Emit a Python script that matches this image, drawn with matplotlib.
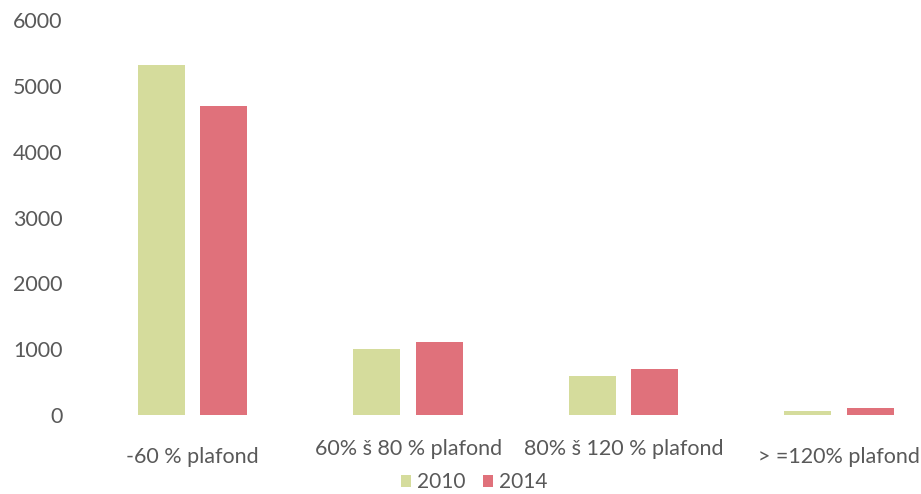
import numpy as np
import matplotlib
matplotlib.use('Agg')
import matplotlib.pyplot as plt
from matplotlib.transforms import ScaledTranslation

# données
categories = ['-60 % plafond', '60% š 80 % plafond', '80% š 120 % plafond', '> =120% plafond']
vals_2010 = [5320, 1000, 590, 60]
vals_2014 = [4700, 1110, 700, 100]
series_names = ['2010', '2014']
y_ticks = [0, 1000, 2000, 3000, 4000, 5000, 6000]

GREEN = '#d5dc9c'
RED = '#e0717b'
TXT = '#595959'

plt.rcParams['font.family'] = ['Lato', 'DejaVu Sans']

W, H = 921, 494
fig = plt.figure(figsize=(W / 100, H / 100), dpi=100)
ax = fig.add_axes([85 / W, 1 - 415 / H, 1 - 85 / W, (415 - 20) / H])

x = np.arange(len(categories))
bw = 0.218
off = 0.145
ax.bar(x - off, vals_2010, bw, color=GREEN, label=series_names[0])
ax.bar(x + off, vals_2014, bw, color=RED, label=series_names[1])

ax.set_ylim(0, 6000)
ax.set_xlim(-0.5, (W - 192.5) / 215.5)
ax.set_yticks(y_ticks)
ax.set_yticklabels([str(v) for v in y_ticks])
ax.set_xticks(x)
ax.set_xticklabels(categories)
ax.tick_params(axis='y', length=0, pad=16, labelsize=15.5, labelcolor=TXT)
ax.tick_params(axis='x', length=0, pad=23, labelsize=15.5, labelcolor=TXT)
for s in ax.spines.values():
    s.set_visible(False)

# les deux étiquettes du milieu sont un peu plus haut
for i, lab in enumerate(ax.get_xticklabels()):
    if i in (1, 2):
        lab.set_transform(lab.get_transform() + ScaledTranslation(0, 8 / 100, fig.dpi_scale_trans))

fig.legend(loc='center', bbox_to_anchor=(0.515, 0.024), ncol=2, frameon=False,
           fontsize=15, labelcolor=TXT, handlelength=0.5, handleheight=0.5,
           handletextpad=0.3, columnspacing=0.8)

fig.savefig('out.png', dpi=100)
